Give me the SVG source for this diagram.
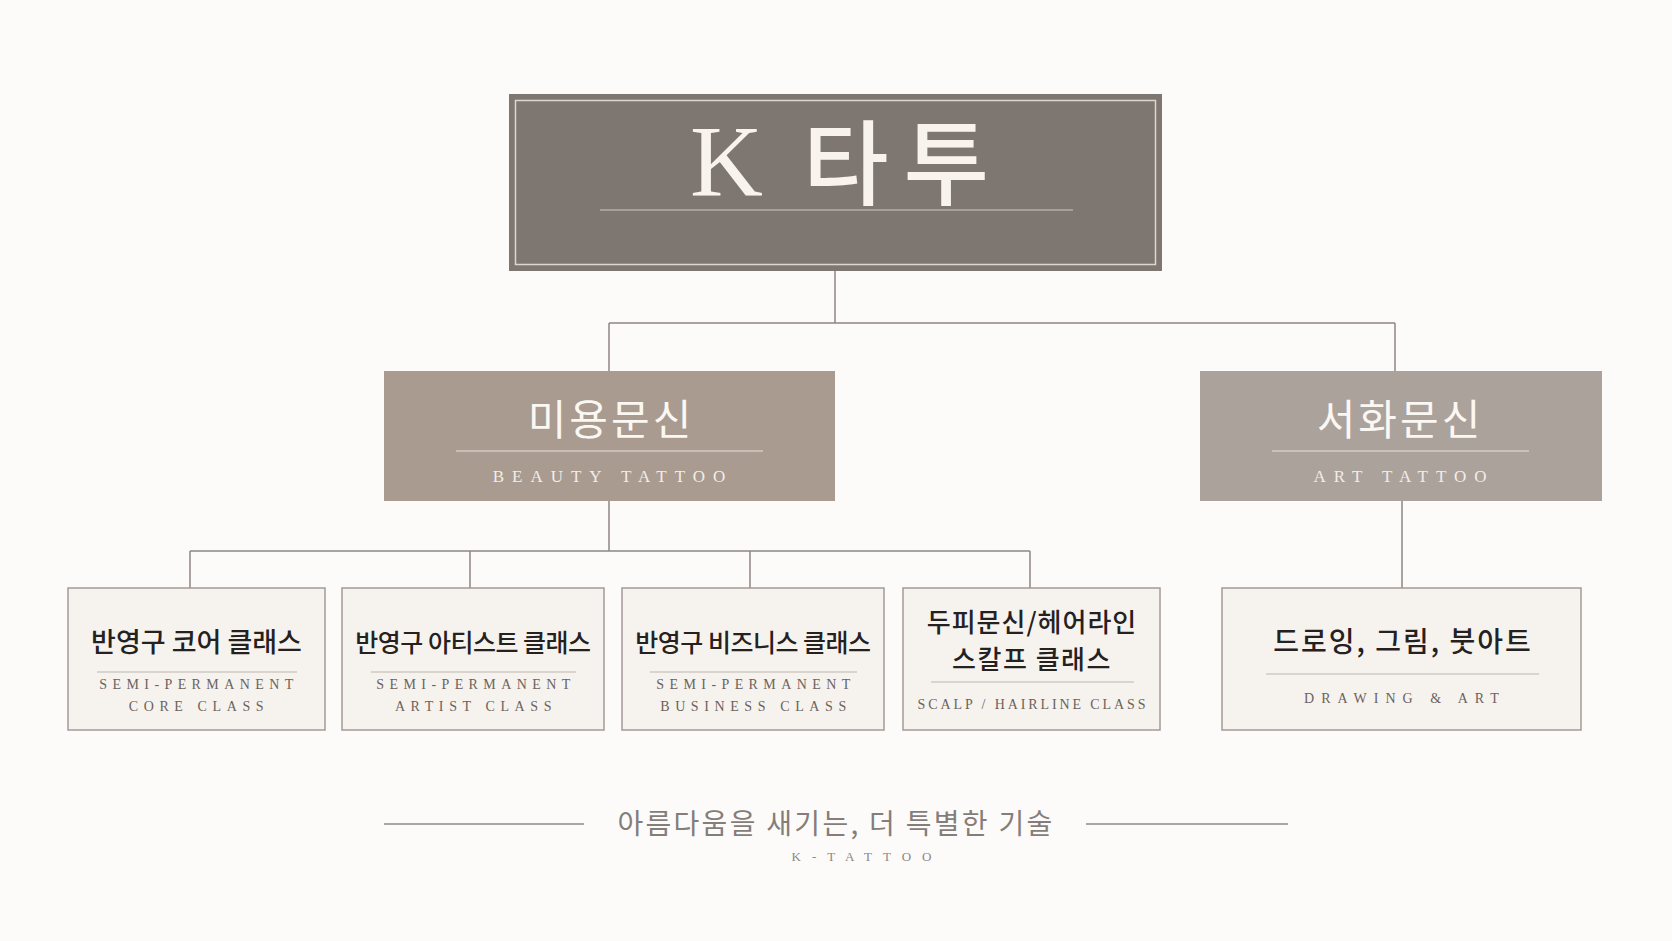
<svg xmlns="http://www.w3.org/2000/svg" width="1672" height="941" viewBox="0 0 1672 941">
<style>
.ko{font-family:"Noto Sans CJK KR","Noto Sans",sans-serif}
.lat{font-family:"Liberation Serif","Noto Sans CJK KR",serif}
.cap{font-family:"Liberation Serif",serif;font-size:17px;fill:#f3ede7;letter-spacing:8px;text-anchor:middle}
.sub{font-family:"Liberation Serif",serif;font-size:14px;fill:#6b625d;text-anchor:middle}
.head{font-family:"Noto Sans CJK KR",sans-serif;font-size:42px;fill:#fbf7f3;text-anchor:middle;letter-spacing:3px}
.lbl{font-family:"Noto Sans CJK KR",sans-serif;font-weight:500;fill:#25211f;text-anchor:middle}
.leaf{fill:#f6f3ef;stroke:#a39b96;stroke-width:1.5}
.rule{stroke:#bdb5ae;stroke-width:1.2}
.wrule{stroke:#e8e1da;stroke-width:1.2}
.conn{fill:none;stroke:#8e8782;stroke-width:1.5}
</style>
<rect x="0" y="0" width="1672" height="941" fill="#fcfbfa"/>
<g id="connectors">
<path class="conn" d="M835 271 V323 M609 323 H1395 M609 323 V371 M1395 323 V371"/>
<path class="conn" d="M609 501 V551 M190 551 H1030 M190 551 V588 M470 551 V588 M750 551 V588 M1030 551 V588"/>
<path class="conn" d="M1402 501 V588"/>
</g>
<g id="root">
<rect x="509" y="94" width="653" height="177" fill="#7e7671"/>
<rect x="515.5" y="100.5" width="640" height="164" fill="none" stroke="#ddd6cf" stroke-width="1.5"/>
<text x="690" y="196" class="lat" font-size="101" fill="#f8f3ed">K</text>
<text x="803" y="198" class="ko" font-size="93" font-weight="500" fill="#f8f3ed" letter-spacing="15">타투</text>
<line x1="600" y1="210" x2="1073" y2="210" stroke="#b8aea5" stroke-width="1.5"/>
</g>
<g id="beauty">
<rect x="384" y="371" width="451" height="130" fill="#a99b90"/>
<text x="611" y="435" class="head">미용문신</text>
<line class="wrule" x1="456" y1="451" x2="763" y2="451"/>
<text x="613" y="482" class="cap">BEAUTY TATTOO</text>
</g>
<g id="art">
<rect x="1200" y="371" width="402" height="130" fill="#aba29c"/>
<text x="1400" y="435" class="head">서화문신</text>
<line class="wrule" x1="1272" y1="451" x2="1529" y2="451"/>
<text x="1404" y="482" class="cap">ART TATTOO</text>
</g>
<g id="core">
<rect class="leaf" x="68" y="588" width="257" height="142"/>
<text x="196.5" y="652" class="lbl" font-size="27">반영구 코어 클래스</text>
<line class="rule" x1="97" y1="672" x2="297" y2="672"/>
<text x="199" y="689" class="sub" letter-spacing="5.4">SEMI-PERMANENT</text>
<text x="199" y="711" class="sub" letter-spacing="5.6">CORE CLASS</text>
</g>
<g id="artist">
<rect class="leaf" x="342" y="588" width="262" height="142"/>
<text x="473" y="652" class="lbl" font-size="25" letter-spacing="-0.5">반영구 아티스트 클래스</text>
<line class="rule" x1="371" y1="672" x2="576" y2="672"/>
<text x="476" y="689" class="sub" letter-spacing="5.4">SEMI-PERMANENT</text>
<text x="476" y="711" class="sub" letter-spacing="5.6">ARTIST CLASS</text>
</g>
<g id="business">
<rect class="leaf" x="622" y="588" width="262" height="142"/>
<text x="753" y="652" class="lbl" font-size="25" letter-spacing="-0.5">반영구 비즈니스 클래스</text>
<line class="rule" x1="650" y1="672" x2="857" y2="672"/>
<text x="756" y="689" class="sub" letter-spacing="5.4">SEMI-PERMANENT</text>
<text x="756" y="711" class="sub" letter-spacing="5.6">BUSINESS CLASS</text>
</g>
<g id="scalp">
<rect class="leaf" x="903" y="588" width="257" height="142"/>
<text x="1032" y="632" class="lbl" font-size="26" letter-spacing="1">두피문신/헤어라인</text>
<text x="1032" y="669" class="lbl" font-size="26" letter-spacing="1.5">스칼프 클래스</text>
<line class="rule" x1="931" y1="682" x2="1134" y2="682"/>
<text x="1033" y="709" class="sub" letter-spacing="2.9">SCALP / HAIRLINE CLASS</text>
</g>
<g id="drawing">
<rect class="leaf" x="1222" y="588" width="359" height="142"/>
<text x="1403" y="652" class="lbl" font-size="28" letter-spacing="2">드로잉, 그림, 붓아트</text>
<line class="rule" x1="1266" y1="674" x2="1539" y2="674"/>
<text x="1405" y="703" class="sub" letter-spacing="7">DRAWING &amp; ART</text>
</g>
<g id="footer">
<line x1="384" y1="824" x2="584" y2="824" stroke="#8f8884" stroke-width="1.5"/>
<line x1="1086" y1="824" x2="1288" y2="824" stroke="#8f8884" stroke-width="1.5"/>
<text x="836" y="834" class="ko" font-size="28" fill="#857d79" text-anchor="middle" letter-spacing="2.3">아름다움을 새기는, 더 특별한 기술</text>
<text x="867" y="861" class="lat" font-size="13" fill="#8d8784" text-anchor="middle" letter-spacing="11">K-TATTOO</text>
</g>
</svg>
